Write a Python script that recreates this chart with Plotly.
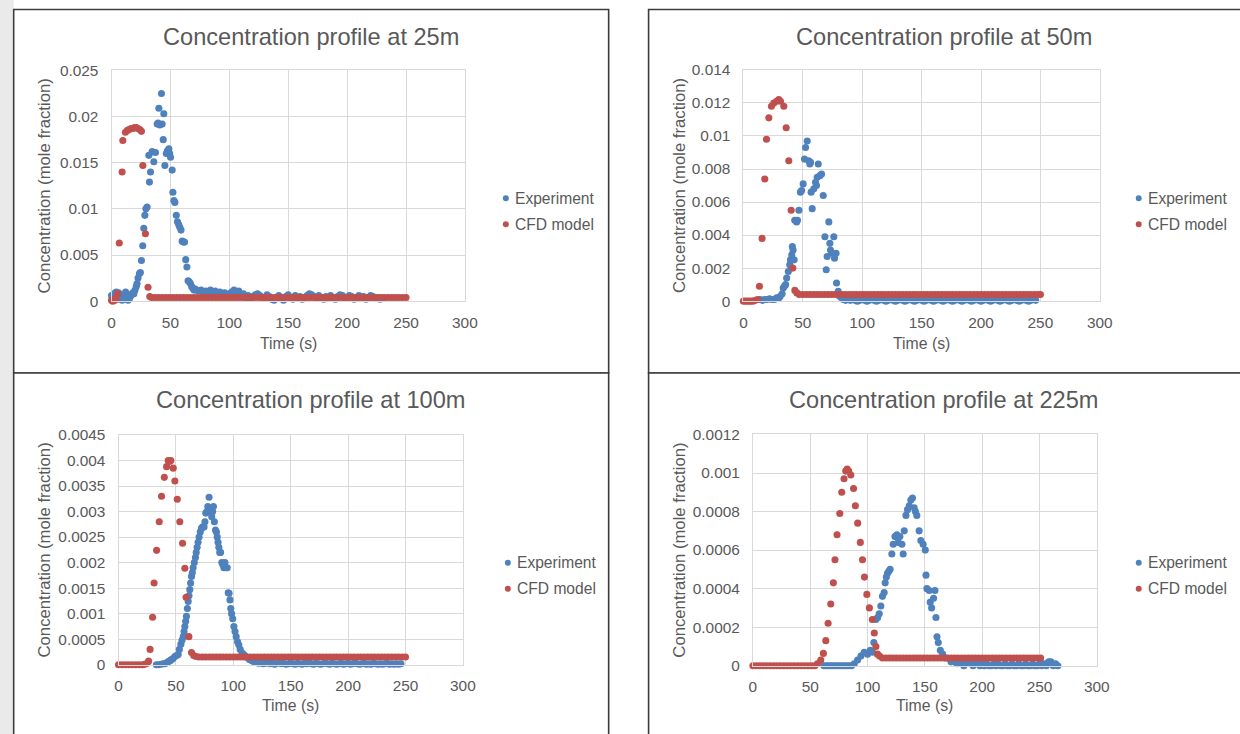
import plotly.graph_objects as go

W, H = 1240, 734

# ------------------------------------------------------------------ data
SERIES_NAMES = ["Experiment", "CFD model"]
TITLES = ["Concentration profile at 25m", "Concentration profile at 50m",
          "Concentration profile at 100m", "Concentration profile at 225m"]
X_TITLE = "Time (s)"
Y_TITLE = "Concentration (mole fraction)"

X_TICKS = [0, 50, 100, 150, 200, 250, 300]
X_TICK_TEXT = ["0", "50", "100", "150", "200", "250", "300"]

Y25_TICKS = [0, 0.005, 0.01, 0.015, 0.02, 0.025]
Y25_TEXT = ["0", "0.005", "0.01", "0.015", "0.02", "0.025"]
Y50_TICKS = [0, 0.002, 0.004, 0.006, 0.008, 0.01, 0.012, 0.014]
Y50_TEXT = ["0", "0.002", "0.004", "0.006", "0.008", "0.01", "0.012", "0.014"]
Y100_TICKS = [0, 0.0005, 0.001, 0.0015, 0.002, 0.0025, 0.003, 0.0035, 0.004, 0.0045]
Y100_TEXT = ["0", "0.0005", "0.001", "0.0015", "0.002", "0.0025", "0.003", "0.0035", "0.004", "0.0045"]
Y225_TICKS = [0, 0.0002, 0.0004, 0.0006, 0.0008, 0.001, 0.0012]
Y225_TEXT = ["0", "0.0002", "0.0004", "0.0006", "0.0008", "0.001", "0.0012"]

# (time s, mole fraction) pairs
EXP25 = [(0,0.0006),(1,0.0004),(2,0.0008),(3,0.0003),(4,0.0010),(5,0.0005),(6,0.0009),(7,0.0002),
         (8,0.0006),(9,0.0001),(10,0.0003),(11,0.0007),(12,0.0010),(13,0.0004),(14,0.0001),(15,0.0002),
         (16,0.0005),(17,0.0007),(18,0.0009),(19,0.0008),(20,0.0012),(21,0.0016),(21.7,0.0019),
         (22.5,0.0025),(23.7,0.0030),(24.5,0.0031),(25.4,0.0044),(26.5,0.0060),(27.4,0.0079),
         (28.3,0.0093),(29.2,0.0100),(30.2,0.0102),(31.7,0.0158),(32.2,0.0129),(33.1,0.0140),
         (34.5,0.0162),(35.9,0.0151),(37.3,0.0161),(38.8,0.0192),(39.5,0.0193),(40.2,0.0209),
         (41,0.0191),(42.4,0.0225),(43,0.0192),(43.9,0.0175),(44.4,0.0203),(45.3,0.0147),(46.5,0.0160),
         (47.5,0.0163),(48.7,0.0165),(49.4,0.0160),(50.1,0.0156),(51.5,0.0142),(52.1,0.0118),(53,0.0109),
         (53.8,0.0107),(55,0.0093),(56,0.0086),(57,0.0083),(58,0.0080),(59,0.0077),(60,0.0065),
         (61,0.0064),(62,0.0064),(63,0.0045),(64,0.0037),(65,0.0022),(66,0.0021),(67,0.0019),(68,0.0016),
         (69,0.0014),(70,0.0012),(71,0.0013),
         (72,0.0012),(74,0.0011),(76,0.0012),(78,0.0010),(80,0.0011),(82,0.0009),(84,0.0012),(86,0.0010),
         (88,0.0011),(90,0.0008),(92,0.0010),(94,0.0007),(96,0.0009),(98,0.0006),(100,0.0008),(102,0.0010),
         (104,0.0012),(106,0.0009),(108,0.0011),(110,0.0006),(112,0.0008),(114,0.0004),(116,0.0006),
         (118,0.0003),(120,0.0005),(122,0.0007),(124,0.0008),(126,0.0006),(128,0.0004),(130,0.0003),
         (132,0.0007),(134,0.0005),(136,0.0002),(138,0.0001),(140,0.0004),(142,0.0006),(144,0.0003),
         (146,0.0001),(148,0.0005),(150,0.0007),(152,0.0004),(154,0.0002),(156,0.0006),(158,0.0003),
         (160,0.0005),(162,0.0002),(164,0.0004),(166,0.0006),(168,0.0008),(170,0.0007),(172,0.0005),
         (174,0.0003),(176,0.0006),(178,0.0004),(180,0.0002),(182,0.0005),(184,0.0003),(186,0.0006),
         (188,0.0004),(190,0.0002),(192,0.0005),(194,0.0007),(196,0.0006),(198,0.0003),(200,0.0004),
         (202,0.0006),(204,0.0005),(206,0.0002),(208,0.0004),(210,0.0006),(212,0.0003),(214,0.0005),
         (216,0.0002),(218,0.0004),(220,0.0006),(222,0.0005),(224,0.0003),(226,0.0004),(228,0.0002),
         (230,0.0003)]

CFD25 = [(0,0.0001),(1,0.0000),(2,0.0002),(3,0.0001),(4,0.0003),(5,0.0008),(6.6,0.0063),(9,0.0140),
         (9.6,0.0174),(11.8,0.0183),(13.5,0.0185),(15,0.0186),(16.5,0.0187),(18,0.0187),(19.5,0.0188),
         (21,0.0188),(22.5,0.0187),(24,0.0186),(25.4,0.0184),(26.6,0.0147),(28.8,0.0073),(31,0.0015),
         (32.5,0.0005),(34,0.0004),(37,0.0004),(40,0.0004),(43,0.0004),(46,0.0004),(49,0.0004),(52,0.0004),
         (55,0.0004),(58,0.0004),(61,0.0004),(64,0.0004),(67,0.0004),(70,0.0004),(73,0.0004),(76,0.0004),
         (79,0.0004),(82,0.0004),(85,0.0004),(88,0.0004),(91,0.0004),(94,0.0004),(97,0.0004),(100,0.0004),
         (103,0.0004),(106,0.0004),(109,0.0004),(112,0.0004),(115,0.0004),(118,0.0004),(121,0.0004),
         (124,0.0004),(127,0.0004),(130,0.0004),(133,0.0004),(136,0.0004),(139,0.0004),(142,0.0004),
         (145,0.0004),(148,0.0004),(151,0.0004),(154,0.0004),(157,0.0004),(160,0.0004),(163,0.0004),
         (166,0.0004),(169,0.0004),(172,0.0004),(175,0.0004),(178,0.0004),(181,0.0004),(184,0.0004),
         (187,0.0004),(190,0.0004),(193,0.0004),(196,0.0004),(199,0.0004),(202,0.0004),(205,0.0004),
         (208,0.0004),(211,0.0004),(214,0.0004),(217,0.0004),(220,0.0004),(223,0.0004),(226,0.0004),
         (229,0.0004),(232,0.0004),(235,0.0004),(238,0.0004),(241,0.0004),(244,0.0004),(247,0.0004),
         (250,0.0004)]

EXP50 = [(14,0.0001),(16,0.00005),(18,0.0001),(20,0.0001),(22,0.00015),(24,0.0001),(26,0.0001),
         (28,0.0002),(30,0.0002),(31,0.0003),(32.6,0.00045),(33.5,0.0008),(34.5,0.0009),(35.5,0.0010),
         (36.4,0.0014),(37.8,0.0018),(39,0.0022),(39.6,0.0025),(40.7,0.0028),(41.2,0.0033),(41.8,0.0031),
         (42.7,0.0025),(43.2,0.0049),(44.8,0.0048),(45.5,0.0049),(46.7,0.0055),(48,0.0066),(49,0.0067),
         (50.3,0.0071),(51.4,0.0086),(52.3,0.0093),(53.7,0.0097),(55,0.0085),(55.9,0.0083),(56.5,0.0084),
         (57,0.0066),(57.9,0.0056),(59.3,0.0068),(60.7,0.0072),(61.5,0.0070),(62.1,0.0075),(63,0.0083),
         (64.4,0.0076),(65.8,0.0077),(67.2,0.0064),(68.6,0.0039),(69.7,0.0019),(70.5,0.0027),(71.9,0.0048),
         (72.8,0.0035),(73.3,0.0031),(74.7,0.0029),(76.1,0.0039),(76.7,0.0026),(78,0.0029),(78.4,0.0011),
         (79.8,0.0006),(81,0.0003),(82.5,0.0002),(84,0.0001),(86,0.00005),(88,0.0001),(90,0.00005),
         (92,0.0001),(94,0.00005),(96,0.0),(98,0.00005),(100,0.0001),(102,0.00005),(104,0.0),(106,0.00005),
         (108,0.0001),(110,0.00005),(112,0.0),(114,0.00005),(116,0.0001),(118,0.00005),(120,0.0),
         (122,0.00005),(124,0.0001),(126,0.00005),(128,0.0),(130,0.00005),(132,0.0001),(134,0.00005),
         (136,0.0),(138,0.00005),(140,0.0001),(142,0.00005),(144,0.0),(146,0.00005),(148,0.0001),
         (150,0.00005),(152,0.0),(154,0.00005),(156,0.0001),(158,0.00005),(160,0.0),(162,0.00005),
         (164,0.0001),(166,0.00005),(168,0.0),(170,0.00005),(172,0.0001),(174,0.00005),(176,0.0),
         (178,0.00005),(180,0.0001),(182,0.00005),(184,0.0),(186,0.00005),(188,0.0001),(190,0.00005),
         (192,0.0),(194,0.00005),(196,0.0001),(198,0.00005),(200,0.0),(202,0.00005),(204,0.0001),
         (206,0.00005),(208,0.0),(210,0.00005),(212,0.0001),(214,0.00005),(216,0.0),(218,0.00005),
         (220,0.0001),(222,0.00005),(224,0.0),(226,0.00005),(228,0.0001),(230,0.00005),(232,0.0),
         (234,0.00005),(236,0.0001),(238,0.00005),(240,0.0),(242,0.00005),(244,0.0001),(246,0.00005)]

CFD50 = [(0,0.0),(2,0.0),(4,0.0),(6,0.0),(8,0.0),(10,0.00005),(12,0.0001),(13.5,0.0009),(15.7,0.0038),
         (18,0.0074),(19.4,0.0098),(21.4,0.0111),(23.6,0.0118),(25.6,0.0120),(27.9,0.0121),(29.8,0.0122),
         (31.2,0.0121),(34,0.0118),(36,0.0105),(38.2,0.0085),(40.2,0.0055),(41.6,0.0020),(43.3,0.00065),
         (45,0.0005),(47,0.0004),(50,0.0004),(53,0.0004),(56,0.0004),(59,0.0004),(62,0.0004),(65,0.0004),
         (68,0.0004),(71,0.0004),(74,0.0004),(77,0.0004),(80,0.0004),(83,0.0004),(86,0.0004),(89,0.0004),
         (92,0.0004),(95,0.0004),(98,0.0004),(101,0.0004),(104,0.0004),(107,0.0004),(110,0.0004),
         (113,0.0004),(116,0.0004),(119,0.0004),(122,0.0004),(125,0.0004),(128,0.0004),(131,0.0004),
         (134,0.0004),(137,0.0004),(140,0.0004),(143,0.0004),(146,0.0004),(149,0.0004),(152,0.0004),
         (155,0.0004),(158,0.0004),(161,0.0004),(164,0.0004),(167,0.0004),(170,0.0004),(173,0.0004),
         (176,0.0004),(179,0.0004),(182,0.0004),(185,0.0004),(188,0.0004),(191,0.0004),(194,0.0004),
         (197,0.0004),(200,0.0004),(203,0.0004),(206,0.0004),(209,0.0004),(212,0.0004),(215,0.0004),
         (218,0.0004),(221,0.0004),(224,0.0004),(227,0.0004),(230,0.0004),(233,0.0004),(236,0.0004),
         (239,0.0004),(242,0.0004),(245,0.0004),(248,0.0004),(250,0.0004)]

EXP100 = [(33,0.0),(35,0.0),(37,0.00001),(39,0.00002),(40.5,0.00002),(42,0.00004),(43.4,0.00006),
          (45,0.00008),(46.2,0.0001),(47.5,0.00012),(49.1,0.00016),(50.5,0.00018),(52,0.0002),(53,0.0003),
          (54.3,0.0004),(55.3,0.00048),(56.4,0.00055),(57.1,0.00065),(57.8,0.00075),(58.5,0.00085),
          (59.2,0.00095),(60,0.0011),(60.7,0.00124),(61.4,0.00135),(62.1,0.00147),(62.8,0.0016),
          (63.6,0.00173),(64.3,0.0018),(65,0.0019),(66,0.0020),(67,0.0021),(67.7,0.0022),(68.5,0.0023),
          (69.3,0.0024),(70.2,0.0025),(71.2,0.0026),(72.2,0.00267),(73.3,0.0027),(74.5,0.0027),
          (75.3,0.0028),(76,0.00297),(77,0.0030),(77.8,0.0031),(78.9,0.00328),(79.8,0.0030),(80.5,0.00305),
          (81.2,0.0029),(82,0.0030),(82.7,0.0031),(83.5,0.0028),(84.5,0.00264),(85.3,0.0026),(86,0.0025),
          (86.7,0.0024),(87.4,0.0023),(88.2,0.0022),(88.9,0.0022),(90,0.0020),(90.9,0.00196),(91.8,0.0019),
          (92.7,0.0020),(93.7,0.0019),(94.7,0.0019),(95.6,0.00141),(96.3,0.0014),(97.1,0.00127),
          (97.8,0.0011),(98.5,0.0010),(99.5,0.0009),(100.5,0.00075),(101.5,0.00065),(102.5,0.00055),
          (103.7,0.00045),(104.8,0.00039),(106,0.0003),(107.7,0.00023),(109,0.0002),(110.5,0.00017),
          (112,0.00014),(114,0.0001),(116.3,0.00008),(118,0.00006),(120,0.00005),(122,0.00003),
          (124,0.00004),(126,0.00002),(128,0.00003),(130,0.00005),(132,0.00002),(134,0.00003),
          (136,0.00001),(138,0.00003),(140,0.00004),(142,0.00002),(144,0.00003),(146,0.00001),
          (148,0.00002),(150,0.00004),(152,0.00002),(154,0.00001),(156,0.00003),(158,0.00002),
          (160,0.00001),(162,0.00003),(164,0.00002),(166,0.00004),(168,0.00002),(170,0.00001),
          (172,0.00003),(174,0.00002),(176,0.00001),(178,0.00002),(180,0.00004),(182,0.00002),
          (184,0.00001),(186,0.00003),(188,0.00002),(190,0.00001),(192,0.00002),(194,0.00003),
          (196,0.00001),(198,0.00002),(200,0.00003),(202,0.00001),(204,0.00002),(206,0.00004),
          (208,0.00002),(210,0.00001),(212,0.00002),(214,0.00003),(216,0.00001),(218,0.00002),
          (220,0.00001),(222,0.00003),(224,0.00002),(226,0.00001),(228,0.00002),(230,0.00001),
          (232,0.00002),(234,0.00003),(236,0.00001),(238,0.00002),(240,0.00001),(242,0.00002),
          (244,0.00001),(246,0.00002)]

CFD100 = [(0,0.0),(3,0.0),(6,0.0),(9,0.0),(12,0.0),(15,0.0),(18,0.0),(21,0.0),(23,0.00001),(25,0.00003),
          (26.2,0.00007),(27.5,0.0003),(29.7,0.00093),(31,0.0016),(33.2,0.00224),(35.5,0.0028),
          (37.5,0.0033),(39.9,0.00367),(41.9,0.00388),(43.3,0.0040),(44.5,0.00398),(45.6,0.0040),
          (47.7,0.00385),(49.1,0.0036),(51.2,0.00324),(53.4,0.0028),(55.8,0.00238),(57.8,0.00189),
          (58.9,0.00132),(61.3,0.00055),(63.6,0.00024),(65.5,0.00018),(67.5,0.00016),(70,0.00015),
          (73,0.00015),(76,0.00015),(79,0.00015),(82,0.00015),(85,0.00015),(88,0.00015),(91,0.00015),
          (94,0.00015),(97,0.00015),(100,0.00015),(103,0.00015),(106,0.00015),(109,0.00015),(112,0.00015),
          (115,0.00015),(118,0.00015),(121,0.00015),(124,0.00015),(127,0.00015),(130,0.00015),(133,0.00015),
          (136,0.00015),(139,0.00015),(142,0.00015),(145,0.00015),(148,0.00015),(151,0.00015),(154,0.00015),
          (157,0.00015),(160,0.00015),(163,0.00015),(166,0.00015),(169,0.00015),(172,0.00015),(175,0.00015),
          (178,0.00015),(181,0.00015),(184,0.00015),(187,0.00015),(190,0.00015),(193,0.00015),(196,0.00015),
          (199,0.00015),(202,0.00015),(205,0.00015),(208,0.00015),(211,0.00015),(214,0.00015),(217,0.00015),
          (220,0.00015),(223,0.00015),(226,0.00015),(229,0.00015),(232,0.00015),(235,0.00015),(238,0.00015),
          (241,0.00015),(244,0.00015),(247,0.00015),(250,0.00015)]

EXP225 = [(62,0.0),(64,0.0),(66,0.0),(68,0.0),(70,0.0),(72,0.0),(74,0.0),(76,0.0),(78,0.0),(80,0.0),
          (82,0.0),(84,0.0),(86,0.0),(88.4,0.00001),(91.3,0.00003),(94.2,0.00005),(97.1,0.00007),
          (100,0.00006),(102.4,0.00008),(104.4,0.00007),(105.5,0.00012),(107.3,0.00024),(108.8,0.00025),
          (110.2,0.00027),(111.6,0.00031),(113,0.00036),(114.5,0.00038),(115.4,0.00043),(116.4,0.00046),
          (117.4,0.00048),(118.5,0.00049),(119.7,0.0005),(121.2,0.00058),(122.4,0.00063),(123.9,0.00067),
          (125.6,0.00068),(126.8,0.00064),(128.2,0.00067),(130,0.00063),(131.1,0.00058),(132,0.0007),
          (133.5,0.00078),(134.9,0.00081),(136.4,0.00083),(137.8,0.00086),(139.2,0.00087),(140.7,0.00082),
          (141.8,0.0008),(143,0.00078),(145,0.0007),(146.5,0.00065),(148.5,0.00063),(150.4,0.0006),
          (151,0.00047),(151.8,0.0004),(153.8,0.00039),(154.7,0.00033),(155.9,0.0003),(157.6,0.00035),
          (158.8,0.00039),(159.7,0.00025),(160.6,0.00015),(161.7,0.00012),(163.5,0.00008),(165.5,0.00006),
          (168.4,0.00004),(172.8,0.00002),(176,0.00002),(178,0.00001),(180,0.00002),(182,0.00001),
          (184,0.0),(186,0.00001),(188,0.00002),(190,0.00001),(192,0.0),(194,0.00001),(196,0.00001),
          (198,0.0),(200,0.00001),(202,0.0),(204,0.00001),(206,0.0),(208,0.0),(210,0.00001),(212,0.0),
          (214,0.00001),(216,0.0),(218,0.0),(220,0.00001),(222,0.0),(224,0.0),(226,0.00001),(228,0.0),
          (230,0.0),(232,0.00001),(234,0.0),(236,0.0),(238,0.00001),(240,0.0),(242,0.0),(244,0.00001),
          (246,0.0),(248,0.0),(250,0.00001),(252,0.0),(254,0.00001),(256,0.0),(258,0.00002),(260,0.00002),
          (262,0.0),(264,0.00001),(266,0.0)]

CFD225 = [(0,0.0),(3,0.0),(6,0.0),(9,0.0),(12,0.0),(15,0.0),(18,0.0),(21,0.0),(24,0.0),(27,0.0),(30,0.0),
          (33,0.0),(36,0.0),(39,0.0),(42,0.0),(45,0.0),(48,0.0),(51,0.0),(54,0.0),(56.3,0.00001),
          (59.2,0.00003),(61.5,0.000064),(63.6,0.00013),(65.6,0.00022),(67.9,0.00032),(70.2,0.00043),
          (71.6,0.00055),(73.4,0.00068),(75.8,0.00079),(77.5,0.0009),(79.5,0.00097),(81,0.00101),
          (82.2,0.00102),(83.6,0.00101),(85.4,0.00099),(87.8,0.00092),(89.4,0.00083),(91.4,0.00074),
          (93.7,0.00064),(95.6,0.00055),(97.3,0.00046),(99.4,0.00037),(101.6,0.0003),(104.2,0.00024),
          (105.9,0.00017),(107.3,0.0001),(108.7,0.00006),(110.5,0.00005),(113,0.00004),(116,0.00004),
          (119,0.00004),(122,0.00004),(125,0.00004),(128,0.00004),(131,0.00004),(134,0.00004),
          (137,0.00004),(140,0.00004),(143,0.00004),(146,0.00004),(149,0.00004),(152,0.00004),
          (155,0.00004),(158,0.00004),(161,0.00004),(164,0.00004),(167,0.00004),(170,0.00004),
          (173,0.00004),(176,0.00004),(179,0.00004),(182,0.00004),(185,0.00004),(188,0.00004),
          (191,0.00004),(194,0.00004),(197,0.00004),(200,0.00004),(203,0.00004),(206,0.00004),
          (209,0.00004),(212,0.00004),(215,0.00004),(218,0.00004),(221,0.00004),(224,0.00004),
          (227,0.00004),(230,0.00004),(233,0.00004),(236,0.00004),(239,0.00004),(242,0.00004),
          (245,0.00004),(248,0.00004),(251,0.00004)]

# ------------------------------------------------------------------ style / layout
BLUE = "#4F81BD"
RED = "#C0504D"
TXT = "#595959"
GRID = "#D9D9D9"
FONT = "Liberation Sans, Arial, sans-serif"

# the photographed page is slightly shrunk/offset; positions below are given in
# target-picture pixels and mapped back to page pixels
PH_SX, PH_OX = 0.988, 2.3
PH_SY, PH_OY = 0.978, 8.5


def fx(x):
    return ((x - PH_OX) / PH_SX) / W


def fy(y):
    return 1 - ((y - PH_OY) / PH_SY) / H


# pixel geometry of each panel (target-picture pixels)
PANELS = [
    dict(exp=EXP25, cfd=CFD25, yt=Y25_TICKS, ytt=Y25_TEXT, ymax=0.025,
         plot=(110, 464, 70, 301), title=(310, 37), ytx=43, xty=343, leg=(505, 198, 224)),
    dict(exp=EXP50, cfd=CFD50, yt=Y50_TICKS, ytt=Y50_TEXT, ymax=0.014,
         plot=(743, 1100, 69.5, 301), title=(944, 37), ytx=679, xty=343, leg=(1139, 198, 224)),
    dict(exp=EXP100, cfd=CFD100, yt=Y100_TICKS, ytt=Y100_TEXT, ymax=0.0045,
         plot=(117, 462, 435, 665), title=(310, 400), ytx=43, xty=706, leg=(507, 563, 589)),
    dict(exp=EXP225, cfd=CFD225, yt=Y225_TICKS, ytt=Y225_TEXT, ymax=0.0012,
         plot=(752.5, 1097, 434.5, 666), title=(944, 400), ytx=679, xty=706, leg=(1139, 563, 589)),
]

fig = go.Figure()
annotations = []
shapes = []

# light grey margin at the left and panel frames
shapes.append(dict(type="rect", xref="paper", yref="paper", x0=-0.01, x1=fx(12), y0=-0.05, y1=1.05,
                   fillcolor="#EAEAEA", line=dict(width=0), layer="below"))
for (x0, x1, y0, y1) in [(12, 608, 9, 373), (648, 1260, 9, 373), (12, 608, 373, 760), (648, 1260, 373, 760)]:
    shapes.append(dict(type="rect", xref="paper", yref="paper", x0=fx(x0), x1=fx(x1), y0=fy(y1), y1=fy(y0),
                       fillcolor="white", line=dict(color="#3C3C3C", width=1.6), layer="below"))

layout_axes = {}
for i, p in enumerate(PANELS):
    n = "" if i == 0 else str(i + 1)
    xa, ya = "x" + n, "y" + n
    px0, px1, py0, py1 = p["plot"]
    for data, name, color in [(p["exp"], SERIES_NAMES[0], BLUE), (p["cfd"], SERIES_NAMES[1], RED)]:
        t, c = zip(*data)
        fig.add_trace(go.Scatter(x=list(t), y=list(c), mode="markers", name=name, xaxis=xa, yaxis=ya,
                                 marker=dict(color=color, size=7.1, line=dict(width=0)),
                                 cliponaxis=False, showlegend=False))
    layout_axes["xaxis" + n] = dict(domain=[fx(px0), fx(px1)], anchor=ya, range=[0, 300],
                                    tickvals=X_TICKS, ticktext=X_TICK_TEXT, showgrid=True, gridcolor=GRID,
                                    gridwidth=1, zeroline=False, showline=True, mirror=True, linecolor=GRID,
                                    ticks="", ticklabelstandoff=7,
                                    tickfont=dict(family=FONT, size=15.4, color=TXT), fixedrange=True)
    layout_axes["yaxis" + n] = dict(domain=[fy(py1), fy(py0)], anchor=xa, range=[0, p["ymax"]],
                                    tickvals=p["yt"], ticktext=p["ytt"], showgrid=True, gridcolor=GRID,
                                    gridwidth=1, zeroline=False, showline=True, mirror=True, linecolor=GRID,
                                    ticks="", ticklabelstandoff=9,
                                    tickfont=dict(family=FONT, size=15.4, color=TXT), fixedrange=True)
    annotations.append(dict(text=TITLES[i], x=fx(p["title"][0]), y=fy(p["title"][1]), xref="paper",
                            yref="paper", xanchor="center", yanchor="middle", showarrow=False,
                            font=dict(family=FONT, size=23.6, color=TXT)))
    annotations.append(dict(text=Y_TITLE, x=fx(p["ytx"]), y=fy((py0 + py1) / 2), xref="paper", yref="paper",
                            xanchor="center", yanchor="middle", textangle=-90, showarrow=False,
                            font=dict(family=FONT, size=16.7, color=TXT)))
    annotations.append(dict(text=X_TITLE, x=fx((px0 + px1) / 2), y=fy(p["xty"]), xref="paper", yref="paper",
                            xanchor="center", yanchor="middle", showarrow=False,
                            font=dict(family=FONT, size=15.8, color=TXT)))
    lx, ly1, ly2 = p["leg"]
    for ly, name, color in [(ly1, SERIES_NAMES[0], BLUE), (ly2, SERIES_NAMES[1], RED)]:
        shapes.append(dict(type="circle", xref="paper", yref="paper", x0=fx(lx - 3), x1=fx(lx + 3),
                           y0=fy(ly + 3), y1=fy(ly - 3), fillcolor=color, line=dict(width=0)))
        annotations.append(dict(text=name, x=fx(lx + 7), y=fy(ly), xref="paper", yref="paper",
                                xanchor="left", yanchor="middle", showarrow=False,
                                font=dict(family=FONT, size=15.6, color=TXT)))

fig.update_layout(width=W, height=H, margin=dict(l=0, r=0, t=0, b=0), paper_bgcolor="white",
                  plot_bgcolor="white", showlegend=False, annotations=annotations, shapes=shapes,
                  font=dict(family=FONT, color=TXT), **layout_axes)

PAGE_FIX = (
    "var st=document.createElement('style');"
    "st.textContent='html,body{margin:0;padding:0;overflow:hidden;background:#fff}"
    ".plotly-graph-div{position:fixed !important;left:0;top:0}';"
    "document.head.appendChild(st);"
)

fig.write_html("out.html", config={"displayModeBar": False}, post_script=PAGE_FIX)
